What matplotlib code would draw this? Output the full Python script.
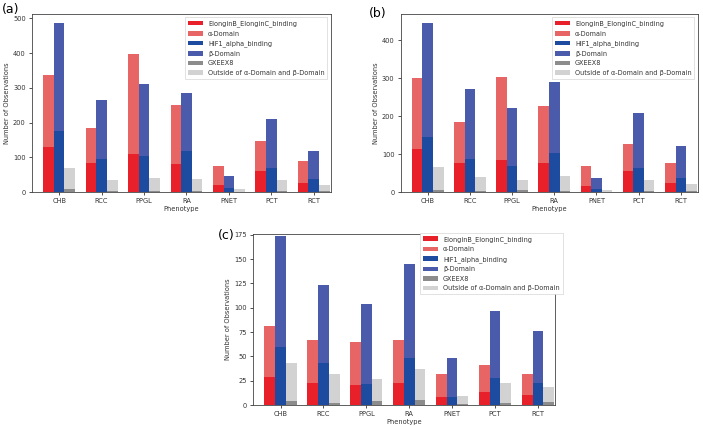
import matplotlib
matplotlib.use("Agg")
import matplotlib.pyplot as plt
import numpy as np
from matplotlib.patches import Patch

phenotypes = ["CHB", "RCC", "PPGL", "RA", "PNET", "PCT", "RCT"]

# panel (a)
a_elongin = [130, 84, 111, 82, 20, 60, 27]
a_alpha = [337, 185, 397, 251, 76, 148, 91]
a_hif = [175, 94, 105, 118, 13, 68, 37]
a_beta = [488, 265, 311, 286, 45, 209, 117]
a_gxeex8 = [8, 3, 4, 3, 1, 2, 2]
a_outside = [70, 35, 40, 38, 8, 34, 21]

# panel (b)
b_elongin = [114, 76, 85, 76, 17, 55, 25]
b_alpha = [301, 184, 303, 227, 69, 127, 77]
b_hif = [146, 87, 70, 104, 9, 63, 38]
b_beta = [446, 270, 221, 289, 38, 209, 121]
b_gxeex8 = [6, 3, 5, 3, 1, 2, 2]
b_outside = [66, 39, 32, 42, 6, 32, 21]

# panel (c)
c_elongin = [29, 23, 21, 23, 8, 14, 10]
c_alpha = [81, 67, 65, 67, 32, 41, 32]
c_hif = [60, 43, 22, 48, 8, 28, 23]
c_beta = [174, 123, 104, 145, 48, 97, 76]
c_gxeex8 = [4, 2, 4, 5, 1, 2, 3]
c_outside = [43, 32, 27, 37, 9, 23, 19]

COL_ELONGIN = "#e8202a"
COL_ALPHA = "#e86566"
COL_HIF = "#1c4ba0"
COL_BETA = "#4a5bab"
COL_GX = "#8c8c8c"
COL_OUT = "#d2d2d2"

LEGEND_LABELS = [
  "ElonginB_ElonginC_binding",
  "\u03b1-Domain",
  "HIF1_alpha_binding",
  "\u03b2-Domain",
  "GXEEX8",
  "Outside of \u03b1-Domain and \u03b2-Domain",
]
LEGEND_COLORS = [COL_ELONGIN, COL_ALPHA, COL_HIF, COL_BETA, COL_GX, COL_OUT]

FS = 4.8
LEG_FS = 4.7
WIDTH = 0.25


def draw_panel(ax, elongin, alpha, hif, beta, gx, outside, ylim_top=None, legend_anchor=None):
  x = np.arange(len(phenotypes))
  ax.bar(x - WIDTH, alpha, WIDTH, color=COL_ALPHA)
  ax.bar(x - WIDTH, elongin, WIDTH, color=COL_ELONGIN)
  ax.bar(x, beta, WIDTH, color=COL_BETA)
  ax.bar(x, hif, WIDTH, color=COL_HIF)
  ax.bar(x + WIDTH, outside, WIDTH, color=COL_OUT)
  ax.bar(x + WIDTH, gx, WIDTH, color=COL_GX)

  ax.set_xticks(x)
  ax.set_xticklabels(phenotypes)
  ax.set_xlim(-0.64, 6.4)
  top = ylim_top if ylim_top is not None else max(beta + alpha) * 1.05
  ax.set_ylim(0, top)
  ax.tick_params(labelsize=FS, length=2.5, width=0.6, pad=2, colors="#333333")
  ax.set_xlabel("Phenotype", fontsize=FS, labelpad=1, color="#333333")
  ax.set_ylabel("Number of Observations", fontsize=FS, labelpad=2, color="#333333")
  for sp in ax.spines.values():
    sp.set_linewidth(0.6)
    sp.set_color("#444444")

  handles = [Patch(facecolor=c, edgecolor="none") for c in LEGEND_COLORS]
  kw = dict(fontsize=LEG_FS, handlelength=2.3, handleheight=0.7, labelspacing=0.55,
            borderpad=0.45, handletextpad=0.8, fancybox=False, framealpha=1.0)
  if legend_anchor is None:
    leg = ax.legend(handles, LEGEND_LABELS, loc="upper right", **kw)
  else:
    leg = ax.legend(handles, LEGEND_LABELS, loc="upper right",
                    bbox_to_anchor=legend_anchor, borderaxespad=0, **kw)
  leg.get_frame().set_linewidth(0.4)
  leg.get_frame().set_edgecolor("#cccccc")
  for t in leg.get_texts():
    t.set_color("#333333")


fig = plt.figure(figsize=(7.03, 4.26), dpi=100)

ax_a = fig.add_axes([0.0455, 0.549, 0.425, 0.418])
ax_b = fig.add_axes([0.570, 0.549, 0.4225, 0.418])
ax_c = fig.add_axes([0.360, 0.049, 0.4296, 0.402])

draw_panel(ax_a, a_elongin, a_alpha, a_hif, a_beta, a_gxeex8, a_outside)
draw_panel(ax_b, b_elongin, b_alpha, b_hif, b_beta, b_gxeex8, b_outside)
draw_panel(ax_c, c_elongin, c_alpha, c_hif, c_beta, c_gxeex8, c_outside,
           ylim_top=176, legend_anchor=(1.025, 1.005))
ax_c.set_yticks([0, 25, 50, 75, 100, 125, 150, 175])

fig.text(0.003, 0.978, "(a)", fontsize=9, va="center", ha="left")
fig.text(0.525, 0.968, "(b)", fontsize=9, va="center", ha="left")
fig.text(0.310, 0.448, "(c)", fontsize=9, va="center", ha="left")

fig.savefig("out.png", dpi=100)
